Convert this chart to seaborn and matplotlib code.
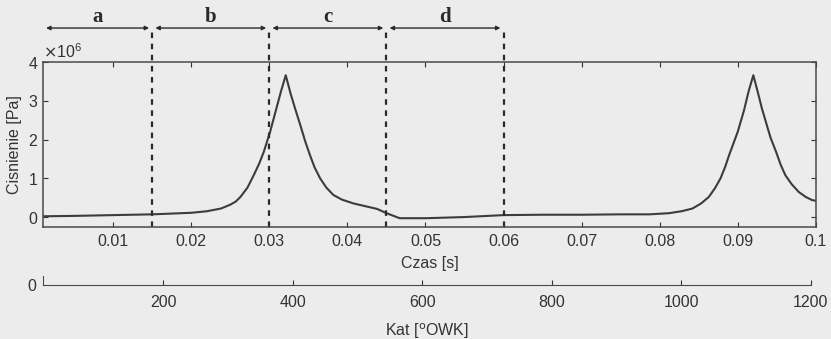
import numpy as np
import pandas as pd
import matplotlib
matplotlib.use("Agg")
import matplotlib.pyplot as plt
import seaborn as sns

# Pressure trace (time in s, pressure in 1e6 Pa)
czas = [0.001, 0.005, 0.010, 0.015, 0.020, 0.022, 0.0238, 0.025, 0.0257, 0.0263,
        0.0272, 0.028, 0.0287, 0.0293, 0.0301, 0.0309, 0.0315, 0.0321, 0.0327, 0.0333,
        0.034, 0.0346, 0.0352, 0.0358, 0.0365, 0.0373, 0.0382, 0.0393, 0.0408, 0.0423,
        0.0438, 0.045, 0.0467, 0.050, 0.055, 0.060, 0.065, 0.070, 0.075, 0.0787,
        0.0812, 0.0828, 0.0842, 0.0853, 0.0863, 0.0871, 0.0878, 0.0884, 0.0889, 0.0900,
        0.0908, 0.0914, 0.0920, 0.0926, 0.0931, 0.0936, 0.0942, 0.0949, 0.0955, 0.0961,
        0.0969, 0.0978, 0.0987, 0.0995, 0.100]
cisnienie = [0.02, 0.03, 0.05, 0.07, 0.11, 0.15, 0.22, 0.32, 0.40, 0.52,
             0.76, 1.08, 1.38, 1.69, 2.2, 2.8, 3.25, 3.66, 3.2, 2.8,
             2.35, 1.95, 1.6, 1.28, 1.0, 0.76, 0.57, 0.45, 0.35, 0.28,
             0.21, 0.10, -0.03, -0.03, 0.0, 0.05, 0.06, 0.06, 0.07, 0.07,
             0.10, 0.15, 0.22, 0.35, 0.52, 0.75, 1.0, 1.3, 1.6, 2.2,
             2.75, 3.25, 3.66, 3.2, 2.8, 2.46, 2.05, 1.69, 1.35, 1.08,
             0.85, 0.65, 0.52, 0.44, 0.42]

# phase boundaries and labels
granice = [0.001, 0.015, 0.030, 0.045, 0.060]
fazy = ["a", "b", "c", "d"]

czas_ticks = [0.01, 0.02, 0.03, 0.04, 0.05, 0.06, 0.07, 0.08, 0.09, 0.1]
kat_ticks = [200, 400, 600, 800, 1000, 1200]
kat_lim = (14, 1200)

bg = "#ececec"
ink = "#333333"
fs = 11.5

sns.set_style("ticks")
plt.rcParams["font.family"] = ["Liberation Sans", "DejaVu Sans"]
plt.rcParams["text.color"] = ink
plt.rcParams["axes.labelcolor"] = ink
plt.rcParams["xtick.color"] = ink
plt.rcParams["ytick.color"] = ink
plt.rcParams["axes.edgecolor"] = "#4a4a4a"

fig = plt.figure(figsize=(8.31, 3.39), dpi=100, facecolor=bg)
ax = fig.add_axes([0.0517, 0.330, 0.930, 0.487])
ax.set_facecolor(bg)

df = pd.DataFrame({"Czas": czas, "Cisnienie": np.array(cisnienie) * 1e6})
sns.lineplot(data=df, x="Czas", y="Cisnienie", ax=ax, color="#3c3c3c", lw=1.5)

ax.set_xlim(0.001, 0.1)
ax.set_ylim(-0.26e6, 4e6)
ax.set_xticks(czas_ticks)
ax.set_xticklabels([f"{t:g}" for t in czas_ticks])
ax.set_yticks([0, 1e6, 2e6, 3e6, 4e6])
ax.ticklabel_format(axis="y", style="sci", scilimits=(0, 0), useMathText=True)
ax.yaxis.get_offset_text().set_fontsize(fs)
ax.tick_params(direction="in", top=True, right=True, length=3.5, width=0.8, labelsize=fs)
ax.tick_params(axis="x", pad=5)
for s in ax.spines.values():
    s.set_linewidth(1.1)
ax.set_xlabel("Czas [s]", fontsize=fs, labelpad=5)
ax.set_ylabel("Cisnienie [Pa]", fontsize=fs, labelpad=4)

# dashed phase boundaries reaching up to the arrow row
top = 1.206
for g in granice[1:]:
    ax.axvline(g, ymin=0, ymax=top, ls=(0, (2.5, 2.5)), lw=1.6, color="#2a2a2a", clip_on=False)

trans = ax.get_xaxis_transform()
for x0, x1, lab in zip(granice[:-1], granice[1:], fazy):
    ax.annotate("", xy=(x0 + 0.0004, top), xytext=(x1 - 0.0004, top), xycoords=trans,
                textcoords=trans, annotation_clip=False,
                arrowprops=dict(arrowstyle="<|-|>", lw=1.0, color="#2a2a2a",
                                mutation_scale=6, shrinkA=0, shrinkB=0))
    ax.text((x0 + x1) / 2, 1.27, lab, transform=trans, ha="center", va="center",
            fontsize=15, fontweight="bold", family="Liberation Serif", color="#2a2a2a")

# secondary crank angle axis
ax2 = fig.add_axes([0.0517, 0.159, 0.924, 0.027])
ax2.patch.set_alpha(0)
ax2.set_xlim(*kat_lim)
ax2.set_ylim(0, 1)
ax2.set_xticks(kat_ticks)
ax2.set_yticks([0])
ax2.spines["top"].set_visible(False)
ax2.spines["right"].set_visible(False)
ax2.tick_params(direction="in", length=3.5, width=0.8, labelsize=fs)
ax2.tick_params(axis="x", pad=7)
ax2.tick_params(axis="y", length=0, pad=5)
ax2.set_xlabel("Kat [$^{\\mathrm{o}}$OWK]", fontsize=fs, labelpad=8)

fig.savefig("out.png", dpi=100, facecolor=bg)
